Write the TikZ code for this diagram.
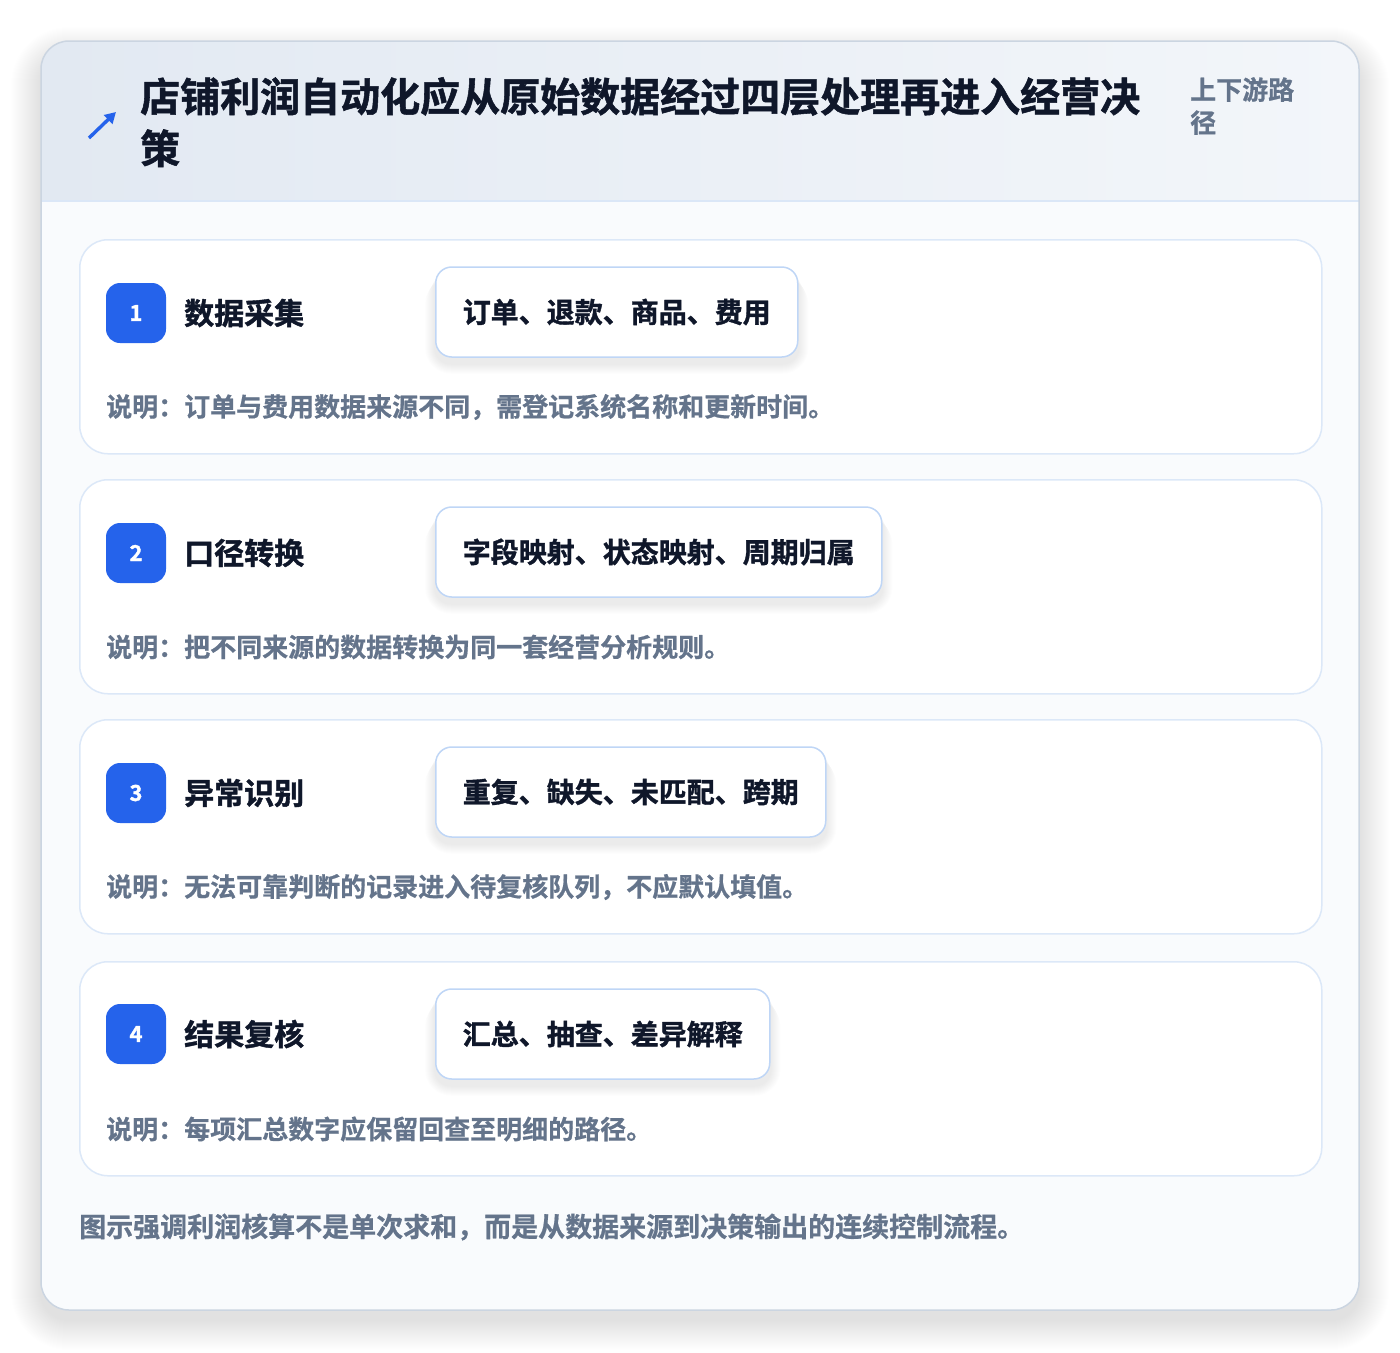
\documentclass[tikz,border=0pt]{standalone}
\usepackage{fontspec}
\setmainfont{Noto Sans CJK SC}[UprightFont=* Bold, BoldFont=* Bold, FakeBold=0.7]
\newfontfamily\heavy{Noto Sans CJK SC}[UprightFont=* Bold, FakeBold=1.3]
\usetikzlibrary{arrows.meta}
\definecolor{ink}{HTML}{0F172A}
\definecolor{muted}{HTML}{64748B}
\definecolor{accent}{HTML}{2563EB}
\definecolor{cardline}{HTML}{DCE8F8}
\definecolor{tagline}{HTML}{BFD6F6}
\definecolor{outerline}{HTML}{CBD5E1}
\definecolor{hdrL}{HTML}{E2E9F2}
\definecolor{hdrR}{HTML}{F3F6FA}
\definecolor{hdrsep}{HTML}{DBE7F7}
\definecolor{bodybg}{HTML}{F9FBFD}
\pgfdeclarelayer{fg}
\pgfsetlayers{main,fg}
\tikzset{
  card/.style={draw=cardline, line width=1.5pt, fill=white, rounded corners=28pt,
    minimum width=1242pt, minimum height=214pt, anchor=north west, inner sep=0pt},
  badge/.style={fill=accent, rounded corners=14pt, minimum width=60pt, minimum height=60pt,
    inner sep=0pt, text=white, font=\heavy\fontsize{22}{22}\selectfont},
  steptitle/.style={anchor=west, inner sep=0pt, text=ink, font=\heavy\fontsize{30}{30}\selectfont},
  tagbox/.style={anchor=west, draw=tagline, line width=1.5pt, fill=white, rounded corners=16pt,
    minimum height=90pt, inner xsep=27pt, inner ysep=0pt, text=ink,
    font=\heavy\fontsize{28}{28}\selectfont},
  desc/.style={anchor=west, inner sep=0pt, text=muted, font=\fontsize{26}{26}\selectfont},
}
\newcommand{\tagshadow}[1]{%
  \foreach \i in {1,...,10}{%
    \fill[black, opacity=0.007, rounded corners=16pt+\i pt]
      ([xshift=-\i pt, yshift=-\i pt-2pt]#1.north west) rectangle ([xshift=\i pt, yshift=-\i pt-6pt]#1.south east);
  }}
\begin{document}
\begin{tikzpicture}[x=1pt,y=-1pt]
\useasboundingbox (0,0) rectangle (1400,1352);
\fill[white] (0,0) rectangle (1400,1352);
% outer card shadow
\foreach \i in {1,...,30}{%
  \fill[black, opacity=0.004, rounded corners=28pt+\i pt]
    (41-\i, 41-\i+16) rectangle (1359+\i, 1310+\i+10);
}
\fill[white, rounded corners=28pt] (41,41) rectangle (1359,1310);
\begin{scope}
  \clip[rounded corners=28pt] (41,41) rectangle (1359,1310);
  \fill[bodybg] (41,201) rectangle (1359,1310);
  \shade[left color=hdrL, right color=hdrR] (41,41) rectangle (1359,201);
  \draw[hdrsep, line width=1.5pt] (41,201) -- (1359,201);
\end{scope}
\draw[outerline, line width=1.5pt, rounded corners=28pt] (41,41) rectangle (1359,1310);

% header
\coordinate (iconA) at (89,138);
\coordinate (iconB) at (116,112);
\draw[accent, line width=3.4pt, -{Triangle[length=11pt,width=12pt]}] (iconA) -- (iconB);
\node[anchor=north west, inner sep=0pt, text=ink, align=left,
  font=\heavy\fontsize{40}{52}\selectfont] (title) at (140,77)
  {店铺利润自动化应从原始数据经过四层处理再进入经营决\\策};
\node[anchor=north west, inner sep=0pt, text=muted, align=left,
  font=\fontsize{26}{33}\selectfont] (side) at (1190,77) {上下游路\\径};

% cards
\node[card] (c1) at (79,239) {};
\node[card] (c2) at (79,479) {};
\node[card] (c3) at (79,719) {};
\node[card] (c4) at (79,961) {};

\node[badge] (b1) at (136,313) {1};
\node[steptitle] (t1) at (184,313) {数据采集};
\begin{pgfonlayer}{fg}\node[tagbox] (g1) at (435,312) {订单、退款、商品、费用};\end{pgfonlayer}
\tagshadow{g1}
\node[desc] (d1) at (106,407) {说明：订单与费用数据来源不同，需登记系统名称和更新时间。};

\node[badge] (b2) at (136,553) {2};
\node[steptitle] (t2) at (184,553) {口径转换};
\begin{pgfonlayer}{fg}\node[tagbox] (g2) at (435,552) {字段映射、状态映射、周期归属};\end{pgfonlayer}
\tagshadow{g2}
\node[desc] (d2) at (106,647) {说明：把不同来源的数据转换为同一套经营分析规则。};

\node[badge] (b3) at (136,793) {3};
\node[steptitle] (t3) at (184,793) {异常识别};
\begin{pgfonlayer}{fg}\node[tagbox] (g3) at (435,792) {重复、缺失、未匹配、跨期};\end{pgfonlayer}
\tagshadow{g3}
\node[desc] (d3) at (106,887) {说明：无法可靠判断的记录进入待复核队列，不应默认填值。};

\node[badge] (b4) at (136,1034) {4};
\node[steptitle] (t4) at (184,1034) {结果复核};
\begin{pgfonlayer}{fg}\node[tagbox] (g4) at (435,1034) {汇总、抽查、差异解释};\end{pgfonlayer}
\tagshadow{g4}
\node[desc] (d4) at (106,1129) {说明：每项汇总数字应保留回查至明细的路径。};

% footer
\node[anchor=west, inner sep=0pt, text=muted, font=\fontsize{27}{27}\selectfont] (foot) at (79,1227)
  {图示强调利润核算不是单次求和，而是从数据来源到决策输出的连续控制流程。};
\end{tikzpicture}
\end{document}
